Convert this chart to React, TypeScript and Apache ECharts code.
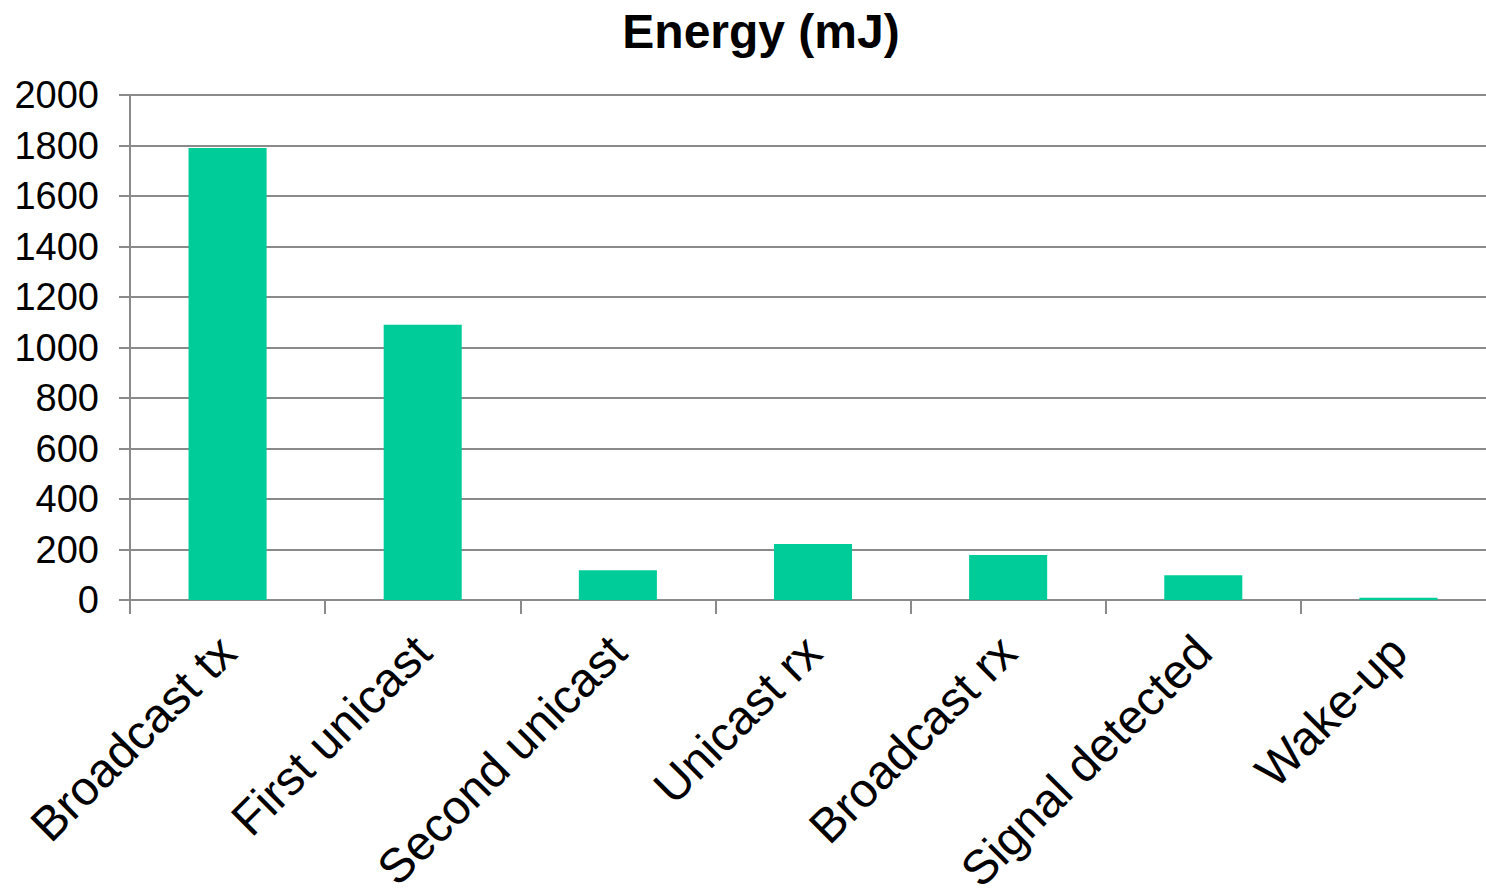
import React, { useEffect, useRef } from "react";
import * as echarts from "echarts";

// Energy consumed per radio operation, in millijoules
const categories: string[] = [
  "Broadcast tx",
  "First unicast",
  "Second unicast",
  "Unicast rx",
  "Broadcast rx",
  "Signal detected",
  "Wake-up",
];
const energyValues: number[] = [1790, 1090, 118, 222, 178, 98, 9];

const yMin = 0;
const yMax = 2000;
const yInterval = 200;

const chartTitle = "Energy (mJ)";

const FONT = '"Liberation Sans", Arial, Helvetica, sans-serif';
const AXIS_GREY = "#8a8a8a";
const BAR_GREEN = "#00cc99";

export default function App() {
  const ref = useRef<HTMLDivElement>(null);

  useEffect(() => {
    if (!ref.current) return;
    document.body.style.overflow = "hidden";
    const chart = echarts.init(ref.current, undefined, { renderer: "svg" });
    chart.setOption({
      animation: false,
      backgroundColor: "#ffffff",
      graphic: [
        {
          type: "text",
          x: 761,
          y: 31,
          style: {
            text: chartTitle,
            font: `bold 48px ${FONT}`,
            fill: "#000000",
            textAlign: "center",
            textVerticalAlign: "middle",
          },
        },
      ],
      grid: {
        left: 130,
        right: 0,
        top: 95,
        bottom: 289,
        containLabel: false,
        outerBoundsMode: "none",
      },
      xAxis: {
        type: "category",
        data: categories,
        boundaryGap: true,
        axisLine: { show: true, lineStyle: { color: AXIS_GREY, width: 2 } },
        axisTick: {
          show: true,
          alignWithLabel: false,
          length: 14,
          lineStyle: { color: AXIS_GREY, width: 2 },
        },
        axisLabel: {
          interval: 0,
          rotate: 45,
          margin: 44,
          color: "#000000",
          fontFamily: FONT,
          fontSize: 48,
        },
        splitLine: { show: false },
      },
      yAxis: {
        type: "value",
        min: yMin,
        max: yMax,
        interval: yInterval,
        axisLine: { show: true, lineStyle: { color: AXIS_GREY, width: 2 } },
        axisTick: {
          show: true,
          length: 11,
          lineStyle: { color: AXIS_GREY, width: 2 },
        },
        axisLabel: {
          margin: 31,
          color: "#000000",
          fontFamily: FONT,
          fontSize: 38,
          formatter: (v: number) => String(v),
        },
        splitLine: { show: true, lineStyle: { color: AXIS_GREY, width: 2 } },
      },
      series: [
        {
          type: "bar",
          data: energyValues,
          barWidth: "40%",
          itemStyle: { color: BAR_GREEN },
        },
      ],
    });
    return () => chart.dispose();
  }, []);

  return (
    <div
      ref={ref}
      style={{ position: "fixed", left: 0, top: 0, width: 1496, height: 889 }}
    />
  );
}
